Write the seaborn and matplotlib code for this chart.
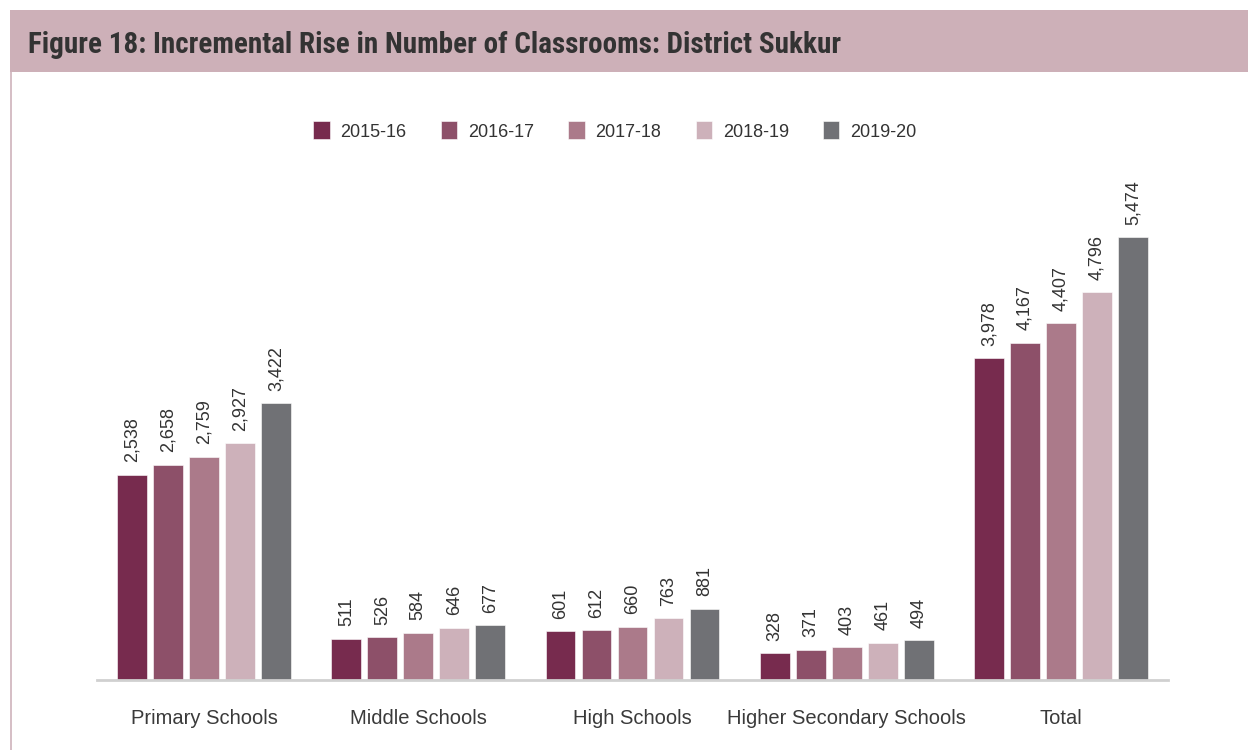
import pandas
import seaborn
import matplotlib
matplotlib.use("Agg")
import matplotlib.pyplot as pyplot
from matplotlib.patches import Rectangle

seaborn.set_theme(style="white")
pyplot.rcParams["font.family"] = ["Liberation Sans", "DejaVu Sans"]

Levels = ["Primary Schools", "Middle Schools", "High Schools", "Higher Secondary Schools", "Total"]
Years = ["2015-16", "2016-17", "2017-18", "2018-19", "2019-20"]
Classrooms = {
    "2015-16": [2538, 511, 601, 328, 3978],
    "2016-17": [2658, 526, 612, 371, 4167],
    "2017-18": [2759, 584, 660, 403, 4407],
    "2018-19": [2927, 646, 763, 461, 4796],
    "2019-20": [3422, 677, 881, 494, 5474],
}
Palette = ["#772b4e", "#8d5069", "#ab7a8a", "#cdb1ba", "#707175"]

rows = []
for Year in Years:
    for Level, Value in zip(Levels, Classrooms[Year]):
        rows.append({"Level": Level, "Year": Year, "Classrooms": Value})
Table = pandas.DataFrame(rows)

fig = pyplot.figure(figsize=(12.48, 7.5), dpi=100)
fig.patch.set_facecolor("white")

# title band and left border
fig.patches.append(Rectangle((10 / 1248, 1 - 72 / 750), 1, 62 / 750, transform=fig.transFigure,
                             facecolor="#cdb0b8", edgecolor="none", zorder=0))
fig.patches.append(Rectangle((10 / 1248, 0), 2 / 1248, 1 - 72 / 750, transform=fig.transFigure,
                             facecolor="#d6bfc6", edgecolor="none", zorder=0))
fig.text(28 / 1248, 1 - 45 / 750, "Figure 18: Incremental Rise in Number of Classrooms: District Sukkur",
         family=["Roboto Condensed", "Liberation Sans Narrow", "DejaVu Sans"], stretch="condensed",
         weight="bold", fontsize=21, color="#333333", va="center", ha="left")

ax = fig.add_axes([97 / 1248, 70 / 750, 1071 / 1248, 520 / 750])
seaborn.barplot(data=Table, x="Level", y="Classrooms", hue="Year", palette=Palette, saturation=1,
                width=0.84, gap=0.17, edgecolor="#ffffff", linewidth=0.4, ax=ax)

for Container in ax.containers:
    ax.bar_label(Container, labels=[f"{v:,.0f}" for v in Container.datavalues],
                 rotation=90, padding=9, fontsize=13, color="#333333")

ax.set_ylim(0, 6428)
ax.set_xlim(-0.5, 4.5)
ax.set_xlabel("")
ax.set_ylabel("")
ax.set_yticks([])
for Side in ["top", "right", "left"]:
    ax.spines[Side].set_visible(False)
ax.spines["bottom"].set_color("#d0d0d0")
ax.spines["bottom"].set_linewidth(2)
ax.tick_params(axis="x", length=0, pad=21, labelsize=14.5, labelcolor="#3a3a3a")

seaborn.move_legend(ax, "center", bbox_to_anchor=(615 / 1248, 1 - 131 / 750),
                    bbox_transform=fig.transFigure, ncol=5, frameon=False, title=None,
                    fontsize=13, handlelength=0.9, handleheight=1.15, handletextpad=0.6,
                    columnspacing=1.9)
for Text in ax.get_legend().get_texts():
    Text.set_color("#333333")

fig.savefig("out.png", dpi=100)
